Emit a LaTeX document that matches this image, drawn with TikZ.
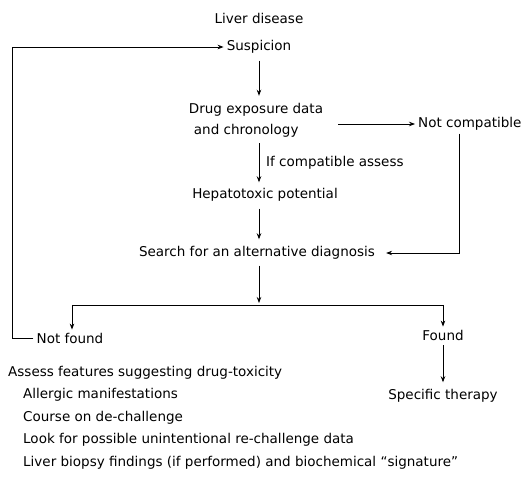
\documentclass[tikz,border=0pt]{standalone}
\usepackage{fontspec}
\setmainfont{DejaVu Sans}
\usetikzlibrary{arrows.meta,calc}
\begin{document}
\begin{tikzpicture}[x=1pt,y=-1pt,
  every node/.style={font=\fontsize{13.5}{21}\selectfont, inner sep=3pt},
  arr/.style={-{Stealth[length=6pt,width=4.5pt]}, line width=0.8pt},
  ln/.style={line width=0.8pt}]
\useasboundingbox (0,0) rectangle (528,481);
\node (liver) at (259,18) {Liver disease};
\node (susp) at (259,47) {Suspicion};
\node[align=left] (drug) at (256,120) {Drug exposure data\\\hspace{5pt}and chronology};
\node[anchor=west] (notc) at (415,124) {Not compatible};
\node (hep) at (265,195) {Hepatotoxic potential};
\node[anchor=west] (ifc) at (263,163) {If compatible assess};
\node (search) at (257,253) {Search for an alternative diagnosis};
\node (notf) at (70,338) {Not found};
\node (found) at (443,335) {Found};
\node (spec) at (443,396) {Specific therapy};
\node[anchor=base west] (assess) at (5,377) {Assess features suggesting drug-toxicity};
\node[anchor=base west] (l1) at (20,399) {Allergic manifestations};
\node[anchor=base west] (l2) at (20,421) {Course on de-challenge};
\node[anchor=base west] (l3) at (20,443) {Look for possible unintentional re-challenge data};
\node[anchor=base west] (l4) at (20,466) {Liver biopsy findings (if performed) and biochemical “signature”};
\coordinate (split) at (259,305);
\coordinate (sl) at (72,305);
\coordinate (sr) at (443,305);
\draw[arr, shorten <=4pt, shorten >=4pt] (susp.south) -- (susp.south |- drug.north);
\draw[arr, shorten <=3pt, shorten >=3pt] (drug.south -| susp) -- (hep.north -| susp);
\draw[arr, shorten <=4pt, shorten >=4pt] (hep.south -| susp) -- (search.north -| susp);
\draw[arr, shorten <=12pt] (drug.east |- notc.west) -- (notc.west);
\draw[arr, shorten >=8pt] (459,0 |- notc.south) |- (search.east);
\draw[arr] (notf.west) -- ++(-21,0) |- (susp.west);
\draw[arr, shorten <=3pt, shorten >=2pt] (search.south -| split) -- (split);
\draw[ln] (sl) -- (sr);
\draw[arr] (sl) -- (sl |- notf.north);
\draw[arr] (sr) -- (found.north);
\draw[arr, shorten <=2pt, shorten >=4pt] (found.south) -- (spec.north);
\end{tikzpicture}
\end{document}
